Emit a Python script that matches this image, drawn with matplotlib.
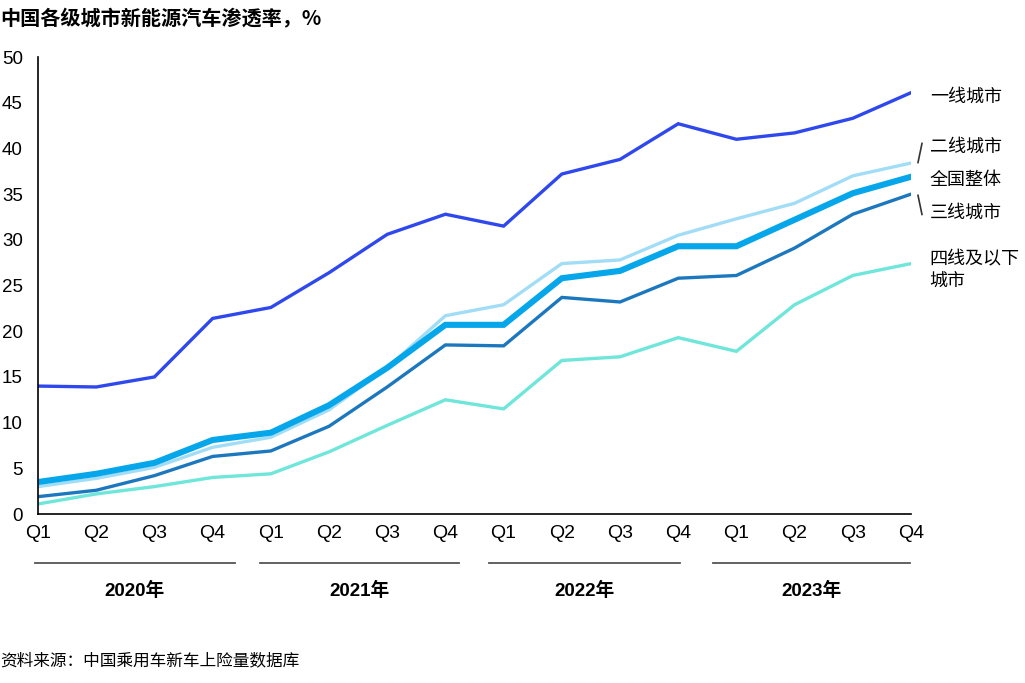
import numpy as np
import matplotlib.pyplot as plt

plt.rcParams['font.family'] = ['Liberation Sans', 'Noto Sans CJK SC', 'DejaVu Sans']

quarters = ['Q1', 'Q2', 'Q3', 'Q4'] * 4
years = ['2020年', '2021年', '2022年', '2023年']

tier1 = [14.0, 13.9, 15.0, 21.4, 22.6, 26.4, 30.6, 32.8, 31.5, 37.2, 38.8, 42.7, 41.0, 41.7, 43.3, 46.1]
overall = [3.5, 4.4, 5.6, 8.1, 8.9, 11.9, 16.0, 20.7, 20.7, 25.8, 26.6, 29.3, 29.3, 32.2, 35.1, 36.9]
tier2 = [3.0, 3.9, 5.1, 7.3, 8.4, 11.4, 16.0, 21.7, 22.9, 27.4, 27.8, 30.5, 32.3, 34.0, 37.0, 38.4]
tier3 = [1.9, 2.6, 4.2, 6.3, 6.9, 9.6, 13.9, 18.5, 18.4, 23.7, 23.2, 25.8, 26.1, 29.1, 32.8, 35.0]
tier4 = [1.1, 2.2, 3.0, 4.0, 4.4, 6.8, 9.7, 12.5, 11.5, 16.8, 17.2, 19.3, 17.8, 22.9, 26.1, 27.4]

x = np.arange(len(quarters))

fig = plt.figure(figsize=(10.25, 6.83), dpi=100)
ax = fig.add_axes([0.0371, 0.2474, 0.8517, 0.6691])

ax.plot(x, tier4, color='#6FE6DA', lw=2.4, solid_joinstyle='miter')
ax.plot(x, tier3, color='#1C78BE', lw=2.4, solid_joinstyle='miter')
ax.plot(x, tier2, color='#A2DDF7', lw=2.4, solid_joinstyle='miter')
ax.plot(x, overall, color='#06A6EA', lw=4.4, solid_joinstyle='miter')
ax.plot(x, tier1, color='#2E48EE', lw=2.4, solid_joinstyle='miter')

ax.set_xlim(0, 15)
ax.set_ylim(0, 50)
ax.set_yticks(np.arange(0, 51, 5))
ax.set_xticks(x)
ax.set_xticklabels(quarters)
ax.tick_params(length=0, labelsize=14, colors='black')
ax.tick_params(axis='y', pad=11, labelsize=13.5)
ax.tick_params(axis='x', pad=8)
for lab in ax.get_yticklabels():
    lab.set_horizontalalignment('right')
ax.spines['top'].set_visible(False)
ax.spines['right'].set_visible(False)
ax.spines['left'].set_linewidth(1.2)
ax.spines['bottom'].set_linewidth(1.2)

# year brackets under the quarter labels (start/end offsets within each year)
trans = ax.get_xaxis_transform()
bracket_lo = [-0.05, 3.81, 7.75, 11.6]
bracket_hi = [3.38, 7.23, 11.03, 14.98]
for yr, lo, hi in zip(years, bracket_lo, bracket_hi):
    ax.plot([lo, hi], [-0.107, -0.107], color='#555555', lw=1.3, transform=trans, clip_on=False)
    ax.text((lo + hi) / 2, -0.168, yr, transform=trans, ha='center', va='center',
            fontsize=13.5, fontweight='bold')

# series labels on the right
lab_x = 0.907
cjk = ['Noto Sans CJK SC']
fig.text(lab_x, 0.859, '一线城市', fontsize=13, va='center', family=cjk)
fig.text(lab_x, 0.785, '二线城市', fontsize=13, va='center', family=cjk)
fig.text(lab_x, 0.736, '全国整体', fontsize=13, va='center', family=cjk)
fig.text(lab_x, 0.688, '三线城市', fontsize=13, va='center', family=cjk)
fig.text(lab_x, 0.622, '四线及以下', fontsize=13, va='center', family=cjk)
fig.text(lab_x, 0.588, '城市', fontsize=13, va='center', family=cjk)
fig.add_artist(plt.Line2D([0.8956, 0.8995], [0.762, 0.790], color='#333333', lw=1.2))
fig.add_artist(plt.Line2D([0.8956, 0.8995], [0.714, 0.686], color='#333333', lw=1.2))

fig.text(0.0, 0.973, '中国各级城市新能源汽车渗透率，%', fontsize=14.5, fontweight='bold',
         va='center', family=['Noto Sans CJK SC', 'DejaVu Sans'])
fig.text(0.0, 0.033, '资料来源：中国乘用车新车上险量数据库', fontsize=12, va='center',
         family=cjk)

fig.savefig('out.png', dpi=100)
